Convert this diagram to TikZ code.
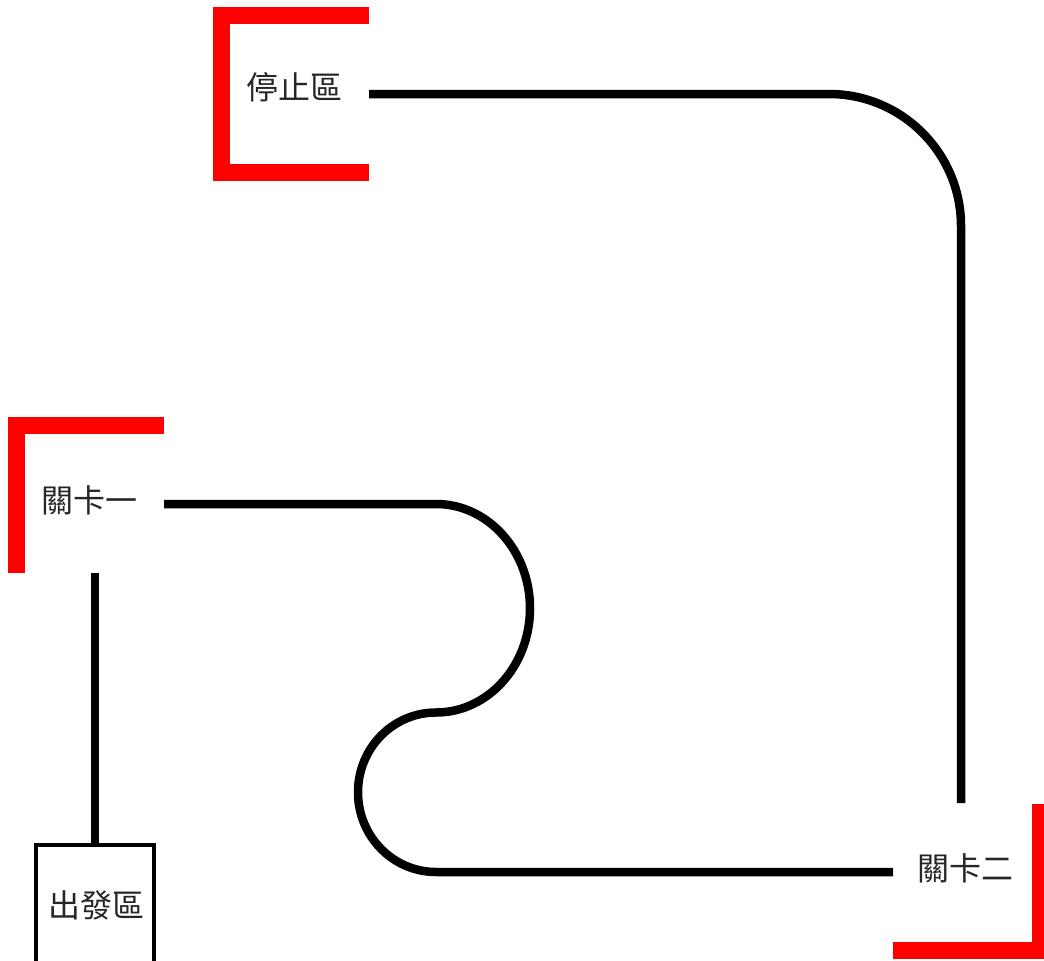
\documentclass[tikz,border=0pt]{standalone}
\usepackage{fontspec}
\newfontfamily\cjk{Noto Sans CJK TC}
\begin{document}
\begin{tikzpicture}[x=1pt,y=-1pt,
  track/.style={line width=8.5pt,black},
  bracket/.style={line width=17pt,red,miter limit=10},
  label/.style={font=\cjk\fontsize{32}{36}\selectfont,text=black!85,inner sep=0pt},
  startbox/.style={draw=black,line width=4pt,minimum width=118pt,minimum height=120pt,inner sep=0pt}]
\useasboundingbox (0,0) rectangle (1044,961);
\clip (0,0) rectangle (1044,961);
% brackets
\draw[bracket] (369,15.5) -- (221.5,15.5) -- (221.5,172) -- (369,172);
\draw[bracket] (163.5,425) -- (16,425) -- (16,573);
\draw[bracket] (892.5,950.5) -- (1040.5,950.5) -- (1040.5,804);
% labels
\node[label] (stop) at (294,87) {停止區};
\node[label] (lv1) at (89,500) {關卡一};
\node[label] (lv2) at (965,868) {關卡二};
\node[startbox] (start) at (94.5,905) {};
\node[label] (starttxt) at (96.5,905) {出發區};
% connector end points
\coordinate (stopOut) at (369,94);
\coordinate (lv2In) at (961,803);
\coordinate (lv1Out) at (164,504);
\coordinate (lv2Left) at (893,872);
\coordinate (lv1Down) at (95,573);
% connectors
\draw[track] (start.north -| lv1Down) -- (lv1Down);
\draw[track] (lv1Out) -- (436,504)
  arc[start angle=-90,end angle=90,x radius=94,y radius=104.25]
  arc[start angle=270,end angle=90,x radius=78,y radius=79.75]
  -- (lv2Left);
\draw[track,rounded corners=132pt] (stopOut) -| (lv2In);
\end{tikzpicture}
\end{document}
